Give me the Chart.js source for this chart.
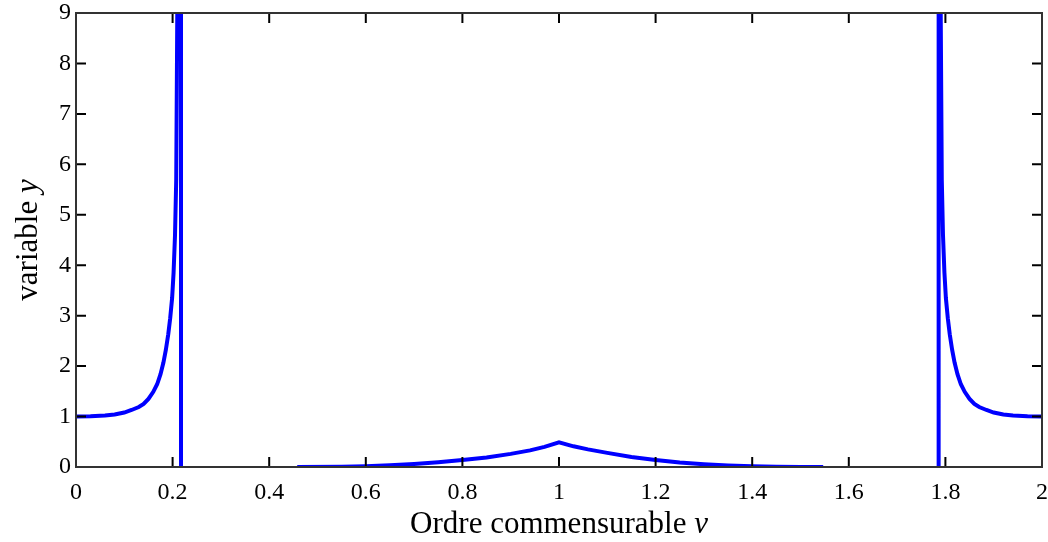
<!DOCTYPE html>
<html>
<head>
<meta charset="utf-8">
<script src="https://cdn.jsdelivr.net/npm/chart.js@4/dist/chart.umd.min.js"></script>
<style>
  html, body { margin: 0; padding: 0; background: #fff; }
  #wrap { width: 1048px; height: 542px; }
</style>
</head>
<body>
<div id="wrap"><canvas id="plot"></canvas></div>
<script>
// values
const leftX  = [0, 0.03, 0.06, 0.08, 0.10, 0.115, 0.13, 0.14, 0.15, 0.16, 0.168, 0.175, 0.181, 0.186, 0.191, 0.195, 0.199, 0.202, 0.205, 0.2075, 0.2097, 0.211, 0.2174, 0.2174];
const leftY  = [1.00, 1.005, 1.02, 1.04, 1.08, 1.13, 1.19, 1.25, 1.35, 1.49, 1.64, 1.84, 2.07, 2.32, 2.63, 2.95, 3.35, 3.85, 4.6, 5.7, 9.0, 11, 11, 0];

const midX   = [0.458, 0.55, 0.6, 0.65, 0.7, 0.75, 0.8, 0.85, 0.9, 0.94, 0.97, 1.0, 1.03, 1.06, 1.1, 1.15, 1.2, 1.25, 1.3, 1.35, 1.4, 1.45, 1.5, 1.547];
const midY   = [0.0, 0.005, 0.015, 0.035, 0.06, 0.095, 0.14, 0.19, 0.26, 0.33, 0.40, 0.49, 0.41, 0.35, 0.28, 0.20, 0.14, 0.09, 0.055, 0.03, 0.015, 0.006, 0.002, 0.0];

const rightX = [1.786, 1.786, 1.789, 1.7903, 1.7925, 1.795, 1.798, 1.801, 1.805, 1.809, 1.814, 1.819, 1.825, 1.832, 1.84, 1.85, 1.86, 1.87, 1.885, 1.90, 1.92, 1.94, 1.97, 2.0];
const rightY = [0, 11, 11, 9.0, 5.7, 4.6, 3.85, 3.35, 2.95, 2.63, 2.32, 2.07, 1.84, 1.64, 1.49, 1.35, 1.25, 1.19, 1.13, 1.08, 1.04, 1.02, 1.005, 1.00];

const xTitle = ['Ordre commensurable ', 'v'];
const yTitle = ['variable ', 'y'];

const serif = '"Liberation Serif", "DejaVu Serif", serif';

function pts(xs, ys) {
  return xs.map((x, i) => ({ x: x, y: ys[i] }));
}

function series(xs, ys) {
  return {
    data: pts(xs, ys),
    borderColor: '#0000ff',
    borderWidth: 4,
    pointRadius: 0,
    tension: 0,
    fill: false,
    clip: 0
  };
}

// MATLAB style box: frame, inward ticks on all four sides, axis titles with italic variable
const boxPlugin = {
  id: 'box',
  afterDraw(chart) {
    const ctx = chart.ctx;
    const a = chart.chartArea;
    const xs = chart.scales.x, ys = chart.scales.y;
    const len = 10;
    ctx.save();
    ctx.strokeStyle = '#000';
    ctx.lineWidth = 2;
    ctx.beginPath();
    xs.ticks.forEach(t => {
      const px = xs.getPixelForValue(t.value);
      ctx.moveTo(px, a.bottom); ctx.lineTo(px, a.bottom - len);
      ctx.moveTo(px, a.top); ctx.lineTo(px, a.top + len);
    });
    ys.ticks.forEach(t => {
      const py = ys.getPixelForValue(t.value);
      ctx.moveTo(a.left, py); ctx.lineTo(a.left + len, py);
      ctx.moveTo(a.right, py); ctx.lineTo(a.right - len, py);
    });
    ctx.stroke();
    ctx.strokeStyle = '#333';
    ctx.strokeRect(a.left, a.top, a.right - a.left, a.bottom - a.top);

    ctx.fillStyle = '#000';
    ctx.textBaseline = 'alphabetic';
    const drawParts = (parts, cx, cy) => {
      const f1 = '31px ' + serif, f2 = 'italic 31px ' + serif;
      ctx.font = f1; const w1 = ctx.measureText(parts[0]).width;
      ctx.font = f2; const w2 = ctx.measureText(parts[1]).width;
      let x0 = cx - (w1 + w2) / 2;
      ctx.font = f1; ctx.fillText(parts[0], x0, cy);
      ctx.font = f2; ctx.fillText(parts[1], x0 + w1, cy);
    };
    drawParts(xTitle, (a.left + a.right) / 2, 533);
    ctx.save();
    ctx.translate(37, (a.top + a.bottom) / 2);
    ctx.rotate(-Math.PI / 2);
    drawParts(yTitle, 0, 0);
    ctx.restore();
    ctx.restore();
  }
};

new Chart(document.getElementById('plot'), {
  type: 'line',
  data: {
    datasets: [series(leftX, leftY), series(midX, midY), series(rightX, rightY)]
  },
  options: {
    responsive: true,
    maintainAspectRatio: false,
    animation: false,
    events: [],
    layout: { padding: { top: 13, right: 6, left: 0, bottom: 0 } },
    plugins: { legend: { display: false }, tooltip: { enabled: false } },
    scales: {
      x: {
        type: 'linear',
        min: 0,
        max: 2,
        afterFit: s => { s.height = 75; s.paddingLeft = 0; s.paddingRight = 0; },
        grid: { display: false, drawTicks: false },
        border: { display: false },
        ticks: {
          stepSize: 0.2,
          padding: 11,
          color: '#000',
          font: { family: serif, size: 24 },
          callback: v => String(Math.round(v * 10) / 10)
        }
      },
      y: {
        type: 'linear',
        min: 0,
        max: 9,
        afterFit: s => { s.width = 76; s.paddingTop = 0; s.paddingBottom = 0; },
        grid: { display: false, drawTicks: false },
        border: { display: false },
        ticks: {
          stepSize: 1,
          padding: 5,
          color: '#000',
          font: { family: serif, size: 24 }
        }
      }
    }
  },
  plugins: [boxPlugin]
});
</script>
</body>
</html>
